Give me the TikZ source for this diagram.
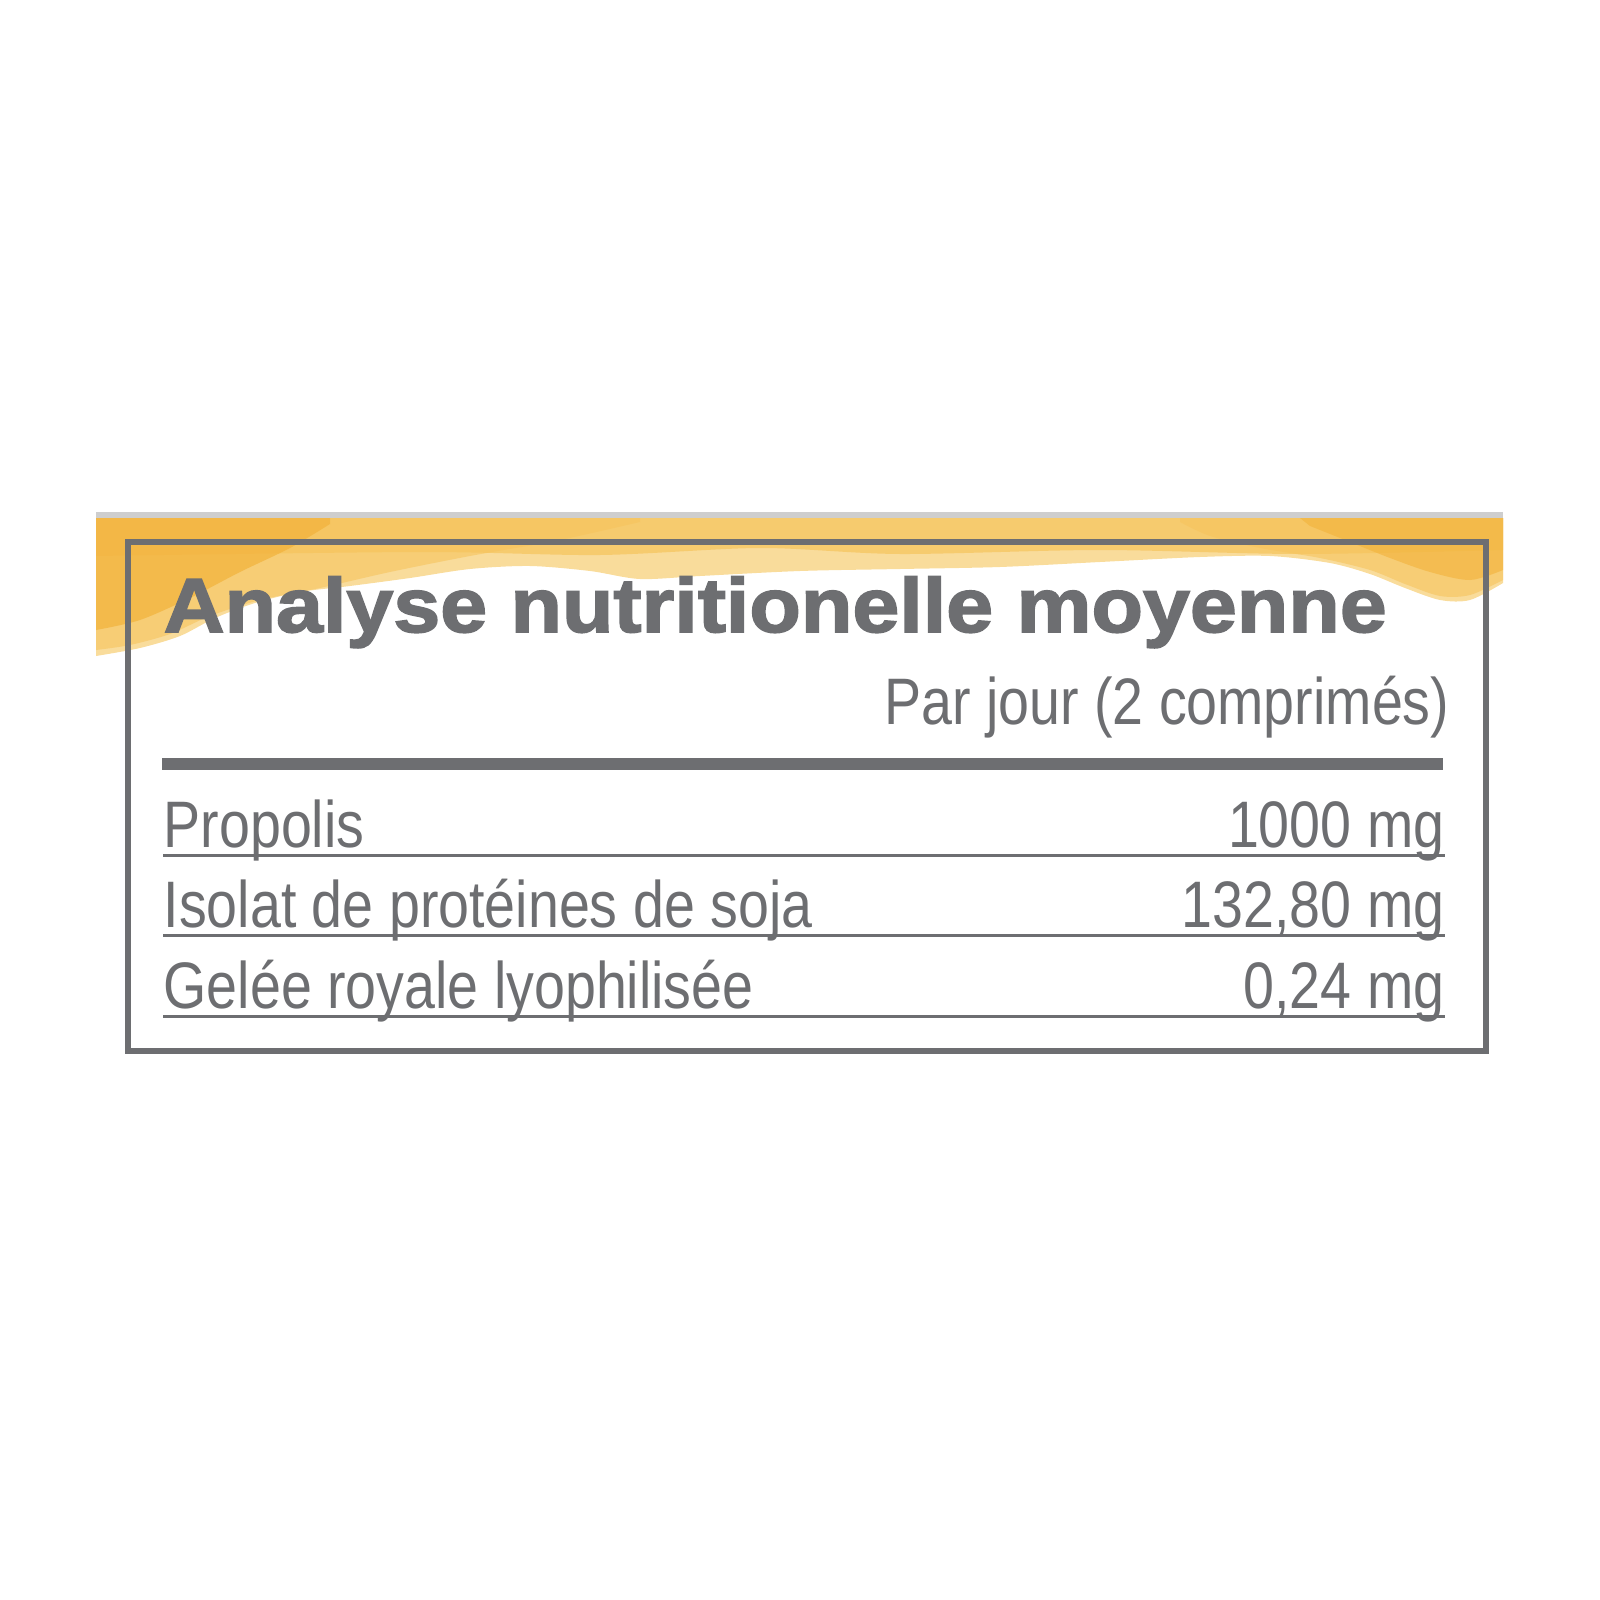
\documentclass[tikz,border=0pt]{standalone}
\usepackage{fontspec}
\setmainfont{Liberation Sans}
\newfontfamily\rowfont[FakeStretch=0.845]{Liberation Sans}
\newfontfamily\headfont[FakeStretch=1.1,FakeBold=2.2]{Liberation Sans Bold}

\definecolor{labelgrey}{RGB}{109,110,113}
\definecolor{washpale}{RGB}{249,220,155}
\definecolor{washmid}{RGB}{246,196,92}
\definecolor{washdeep}{RGB}{242,178,58}
\definecolor{stripgrey}{RGB}{206,206,206}

\tikzset{
  rowlabel/.style={anchor=base west, inner sep=0pt, text=labelgrey, font=\rowfont\fontsize{18.7}{20}\selectfont},
  rowvalue/.style={rowlabel, anchor=base east},
  rowrule/.style={labelgrey, line width=0.03cm},
}

\begin{document}
\begin{tikzpicture}[x=0.01cm, y=-0.01cm]
        \useasboundingbox (0,0) rectangle (1600,1600);

        % watercolour band behind the heading
        \fill[stripgrey] (96,512) rectangle (1503,518);
        \fill[washpale] (96,518) -- (1503,518) -- plot[smooth] coordinates {(1503,583) (1470,600) (1440,600) (1405,588) (1370,574) (1330,563) (1270,556) (1200,557) (1100,562) (1000,567) (900,569) (800,571) (700,576) (640,579) (590,571) (530,566) (470,569) (410,578) (350,586) (300,592) (255,603) (215,618) (180,636) (140,648) (96,656)} -- cycle;
        \fill[washmid, opacity=0.7] (96,518) -- (1503,518) -- plot[smooth] coordinates {(1503,550) (1300,554) (1100,550) (900,554) (760,548) (600,555) (420,552) (96,556)} -- cycle;
        \fill[washmid, opacity=0.6] (96,518) -- (640,518) -- plot[smooth] coordinates {(640,522) (560,540) (470,556) (390,572) (320,588) (260,600) (210,616) (170,634) (130,645) (96,650)} -- cycle;
        \fill[washdeep, opacity=0.7] (96,518) -- (330,518) -- plot[smooth] coordinates {(330,524) (290,548) (240,572) (190,598) (140,620) (96,630)} -- cycle;
        \fill[washmid, opacity=0.6] (1180,518) -- (1503,518) -- plot[smooth] coordinates {(1503,580) (1470,595) (1440,596) (1405,584) (1370,570) (1320,558) (1260,548) (1210,536) (1180,522)} -- cycle;
        \fill[washdeep, opacity=0.6] (1300,518) -- (1503,518) -- plot[smooth] coordinates {(1503,570) (1470,580) (1430,572) (1390,558) (1350,542) (1310,526)} -- cycle;

        % frame and heading
        \draw[labelgrey, line width=0.06cm] (128,542) rectangle (1486,1051);
        \node[anchor=base west, inner sep=0pt, text=labelgrey, font=\headfont\fontsize{21.8}{24}\selectfont] (title) at (163,632) {Analyse nutritionelle moyenne};
        \node[rowvalue] (perday) at (1450,724) {Par jour (2 comprimés)};
        \draw[labelgrey, line width=0.12cm] (162,764) -- (1443,764);

        % rows
        \draw[rowrule] (163,855) -- (1445,855);
        \node[rowlabel] (propolis) at (163,847) {Propolis};
        \node[rowvalue] (propolisval) at (1445,847) {1000 mg};

        \draw[rowrule] (163,935) -- (1445,935);
        \node[rowlabel] (soja) at (163,927) {Isolat de protéines de soja};
        \node[rowvalue] (sojaval) at (1445,927) {132,80 mg};

        \draw[rowrule] (163,1016) -- (1445,1016);
        \node[rowlabel] (gelee) at (163,1008) {Gelée royale lyophilisée};
        \node[rowvalue] (geleeval) at (1445,1008) {0,24 mg};
      \end{tikzpicture}
\end{document}
